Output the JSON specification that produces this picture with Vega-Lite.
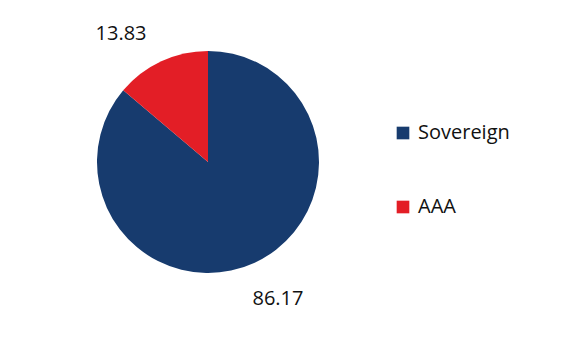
{
  "$schema": "https://vega.github.io/schema/vega-lite/v6.json",
  "width": 416,
  "height": 324,
  "padding": 0,
  "background": "white",
  "config": {"view": {"stroke": null}, "font": "Open Sans"},
  "data": {"values": [
    {"cat": "Sovereign", "value": 86.17},
    {"cat": "AAA", "value": 13.83}
  ]},
  "encoding": {
    "theta": {"field": "value", "type": "quantitative", "stack": true},
    "order": {"field": "value", "sort": "descending"},
    "color": {
      "field": "cat", "type": "nominal",
      "scale": {"domain": ["Sovereign", "AAA"], "range": ["#173B6E", "#E31E26"]},
      "legend": {
        "title": null, "orient": "none", "legendX": 393, "legendY": 123,
        "symbolType": "square", "symbolSize": 160, "symbolStrokeWidth": 0,
        "labelFontSize": 20, "labelFont": "Open Sans", "labelColor": "#111",
        "rowPadding": 54, "labelOffset": 5
      }
    }
  },
  "layer": [
    {"mark": {"type": "arc", "outerRadius": 111}},
    {
      "mark": {"type": "text", "radius": 152, "fontSize": 20, "color": "#111", "dx": 6, "dy": -1},
      "encoding": {
        "text": {"condition": {"test": "datum.cat == 'Sovereign'", "field": "value", "type": "quantitative", "format": ".2f"}, "value": ""},
        "color": {"value": "#111"}
      }
    },
    {
      "mark": {"type": "text", "radius": 152, "fontSize": 20, "color": "#111", "dx": -23, "dy": 10},
      "encoding": {
        "text": {"condition": {"test": "datum.cat == 'AAA'", "field": "value", "type": "quantitative", "format": ".2f"}, "value": ""},
        "color": {"value": "#111"}
      }
    }
  ]
}
